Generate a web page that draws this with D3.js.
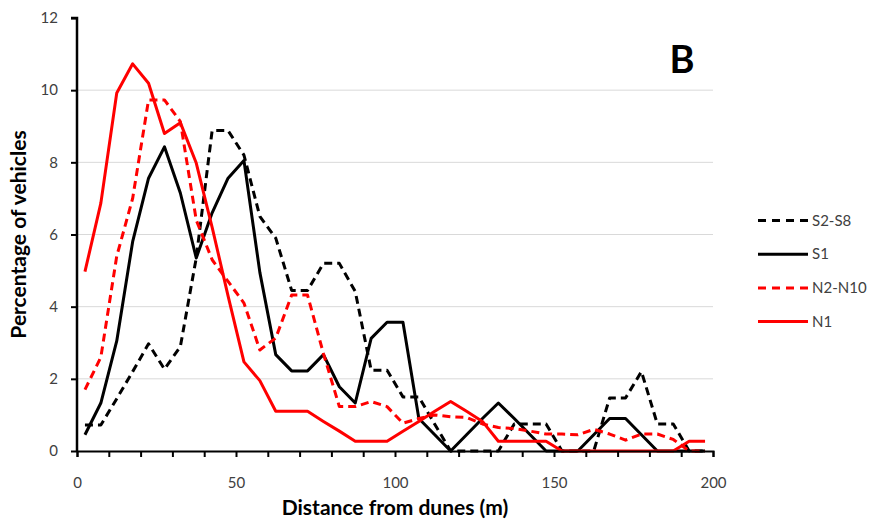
<!DOCTYPE html>
<html>
<head>
<meta charset="utf-8">
<script src="https://cdn.jsdelivr.net/npm/d3@7/dist/d3.min.js"></script>
<style>
  html, body { margin: 0; padding: 0; background: #fff; }
  svg { display: block; }
  text { font-family: Lato, "Open Sans", sans-serif; }
</style>
</head>
<body>
<svg id="chart" width="875" height="522"></svg>
<script>
// ---- data ----
const distance = [2.5, 7.5, 12.5, 17.5, 22.5, 27.5, 32.5, 37.5, 42.5, 47.5,
  52.5, 57.5, 62.5, 67.5, 72.5, 77.5, 82.5, 87.5, 92.5, 97.5,
  102.5, 107.5, 112.5, 117.5, 122.5, 127.5, 132.5, 137.5, 142.5, 147.5,
  152.5, 157.5, 162.5, 167.5, 172.5, 177.5, 182.5, 187.5, 192.5, 197.5];

const s2s8 = [0.72, 0.72, 1.45, 2.2, 2.97, 2.27, 2.89, 5.35, 8.88, 8.88,
  8.2, 6.5, 5.9, 4.45, 4.45, 5.2, 5.2, 4.42, 2.24, 2.24,
  1.5, 1.5, 0.74, 0, 0, 0, 0, 0.75, 0.75, 0.75,
  0, 0, 0, 1.47, 1.47, 2.2, 0.75, 0.75, 0, 0];

const s1 = [0.45, 1.33, 3.05, 5.8, 7.56, 8.43, 7.15, 5.35, 6.6, 7.56,
  8.05, 4.95, 2.67, 2.22, 2.22, 2.67, 1.78, 1.33, 3.12, 3.57,
  3.57, 0.9, 0.45, 0, 0.45, 0.9, 1.33, 0.9, 0.45, 0,
  0, 0, 0.45, 0.9, 0.9, 0.45, 0, 0, 0, 0];

const n2n10 = [1.7, 2.6, 5.4, 7.0, 9.73, 9.73, 9.13, 6.4, 5.3, 4.7,
  4.1, 2.8, 3.13, 4.32, 4.32, 2.7, 1.23, 1.23, 1.37, 1.23,
  0.77, 0.9, 1.0, 0.95, 0.93, 0.75, 0.65, 0.62, 0.55, 0.47,
  0.47, 0.45, 0.6, 0.47, 0.3, 0.47, 0.47, 0.32, 0, 0];

const n1 = [4.97, 6.87, 9.92, 10.73, 10.19, 8.8, 9.1, 7.98, 6.2, 4.3,
  2.47, 1.95, 1.1, 1.1, 1.1, 0.82, 0.55, 0.27, 0.27, 0.27,
  0.55, 0.82, 1.1, 1.37, 1.1, 0.82, 0.27, 0.27, 0.27, 0.27,
  0, 0, 0, 0, 0, 0, 0, 0, 0.27, 0.27];

const seriesNames = ["S2-S8", "S1", "N2-N10", "N1"];
const seriesValues = [s2s8, s1, n2n10, n1];
const seriesColors = ["#000000", "#000000", "#ff0000", "#ff0000"];
const seriesDashed = [true, false, true, false];

const xTickLabels = [0, 50, 100, 150, 200];
const yTickLabels = [0, 2, 4, 6, 8, 10, 12];
const panelLabel = "B";

// ---- layout ----
const svg = d3.select("#chart");
const pLeft = 77, pRight = 713, pTop = 18, pBottom = 451;

const x = d3.scaleLinear().domain([0, 200]).range([pLeft, pRight]);
const y = d3.scaleLinear().domain([0, 12]).range([pBottom, pTop]);

// gridlines
svg.append("g")
  .selectAll("line")
  .data(yTickLabels.filter(v => v > 0 && v < 12))
  .join("line")
  .attr("x1", pLeft).attr("x2", pRight)
  .attr("y1", d => y(d)).attr("y2", d => y(d))
  .attr("stroke", "#d9d9d9").attr("stroke-width", 1);

// panel label box (covers gridline)
svg.append("rect")
  .attr("x", 668).attr("y", 30).attr("width", 60).attr("height", 52)
  .attr("fill", "#fff");
svg.append("text")
  .attr("x", 682).attr("y", 73)
  .attr("text-anchor", "middle")
  .attr("font-size", 38).attr("font-weight", "bold")
  .attr("fill", "#000")
  .text(panelLabel);

// series
const line = d3.line()
  .x((d, i) => x(distance[i]))
  .y(d => y(d));

svg.append("g")
  .selectAll("path")
  .data(seriesValues)
  .join("path")
  .attr("d", d => line(d))
  .attr("fill", "none")
  .attr("stroke", (d, i) => seriesColors[i])
  .attr("stroke-width", 3)
  .attr("stroke-linejoin", "round")
  .attr("stroke-dasharray", (d, i) => seriesDashed[i] ? "8,5" : null);

// x axis
const xAxis = d3.axisBottom(x)
  .tickValues(d3.range(0, 201, 10))
  .tickSize(6)
  .tickFormat(d => xTickLabels.includes(d) ? d : "");
const gx = svg.append("g")
  .attr("transform", `translate(0,${pBottom})`)
  .call(xAxis);
gx.select(".domain").attr("stroke", "#000").attr("stroke-width", 2);
gx.selectAll(".tick line").attr("stroke", "#000").attr("stroke-width", 2);
gx.selectAll(".tick text")
  .attr("font-family", "Lato, sans-serif")
  .attr("font-size", 15).attr("fill", "#404040")
  .attr("dy", "0.71em").attr("y", 26);

// y axis
const yAxis = d3.axisLeft(y)
  .tickValues(yTickLabels)
  .tickSize(6)
  .tickFormat(d => d);
const gy = svg.append("g")
  .attr("transform", `translate(${pLeft},0)`)
  .call(yAxis);
gy.select(".domain").attr("stroke", "#000").attr("stroke-width", 2.5)
  .attr("d", `M-6,${pTop}H0V${pBottom}`);
gy.selectAll(".tick line").attr("stroke", "#000").attr("stroke-width", 2);
gy.selectAll(".tick text")
  .attr("font-family", "Lato, sans-serif")
  .attr("font-size", 15).attr("fill", "#404040")
  .attr("x", -19);

// axis titles
svg.append("text")
  .attr("x", 395).attr("y", 515)
  .attr("text-anchor", "middle")
  .attr("font-size", 21).attr("font-weight", "bold").attr("fill", "#000")
  .text("Distance from dunes (m)");
svg.append("text")
  .attr("transform", `translate(26,${(pTop + pBottom) / 2}) rotate(-90)`)
  .attr("text-anchor", "middle")
  .attr("font-size", 21).attr("font-weight", "bold").attr("fill", "#000")
  .text("Percentage of vehicles");

// legend
const legY0 = 220.5, legStep = 33.7;
const leg = svg.append("g")
  .selectAll("g")
  .data(seriesNames)
  .join("g")
  .attr("transform", (d, i) => `translate(0,${legY0 + i * legStep})`);
leg.append("line")
  .attr("x1", 758).attr("x2", 808)
  .attr("stroke", (d, i) => seriesColors[i])
  .attr("stroke-width", 3)
  .attr("stroke-dasharray", (d, i) => seriesDashed[i] ? "8,6" : null);
leg.append("text")
  .attr("x", 812).attr("dy", "0.35em")
  .attr("font-size", 15).attr("fill", "#404040")
  .text(d => d);
</script>
</body>
</html>
